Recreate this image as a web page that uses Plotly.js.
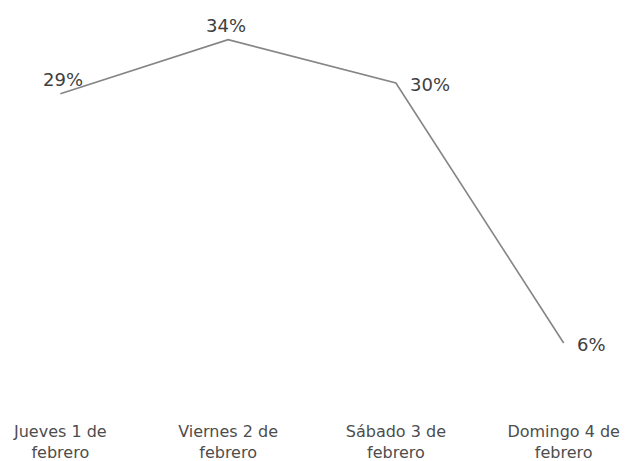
<!DOCTYPE html>
<html>
<head>
<meta charset="utf-8">
<script src="https://cdn.plot.ly/plotly-3.0.1.min.js"></script>
<style>html,body{margin:0;padding:0;background:#fff;}#chart{width:626px;height:461px;}</style>
</head>
<body>
<div id="chart"></div>
<script>
var categories = ["Jueves 1 de<br>febrero", "Viernes 2 de<br>febrero", "Sábado 3 de<br>febrero", "Domingo 4 de<br>febrero"];
var values = [29, 34, 30, 6];
var valueLabels = ["29%", "34%", "30%", "6%"];

// label offsets in pixels (style only)
var labelXShift = [3, -2, 34, 28];
var labelYShift = [14, 14, -1, -1];

var xIndex = categories.map(function (c, i) { return i; });

var trace = {
  x: xIndex,
  y: values,
  type: "scatter",
  mode: "lines",
  line: {color: "#858585", width: 1.6},
  hoverinfo: "none"
};

var annotations = values.map(function (v, i) {
  return {
    x: xIndex[i], y: v, xref: "x", yref: "y",
    text: valueLabels[i], showarrow: false,
    xshift: labelXShift[i], yshift: labelYShift[i],
    xanchor: "center", yanchor: "middle",
    font: {family: "DejaVu Sans", size: 18, color: "#404040"}
  };
});

var layout = {
  width: 626, height: 461,
  margin: {l: 10, r: 12, t: 18, b: 53},
  paper_bgcolor: "#ffffff", plot_bgcolor: "#ffffff",
  showlegend: false,
  annotations: annotations,
  xaxis: {
    range: [-0.3, 3.3],
    tickmode: "array",
    tickvals: xIndex,
    ticktext: categories,
    showgrid: false, zeroline: false, showline: false, ticks: "",
    ticklabelstandoff: 12,
    tickfont: {family: "DejaVu Sans", size: 16, color: "#4d4d4d"}
  },
  yaxis: {
    range: [0, 36],
    showgrid: false, zeroline: false, showline: false,
    showticklabels: false, ticks: ""
  }
};

Plotly.newPlot("chart", [trace], layout, {displayModeBar: false, staticPlot: true});
</script>
</body>
</html>
